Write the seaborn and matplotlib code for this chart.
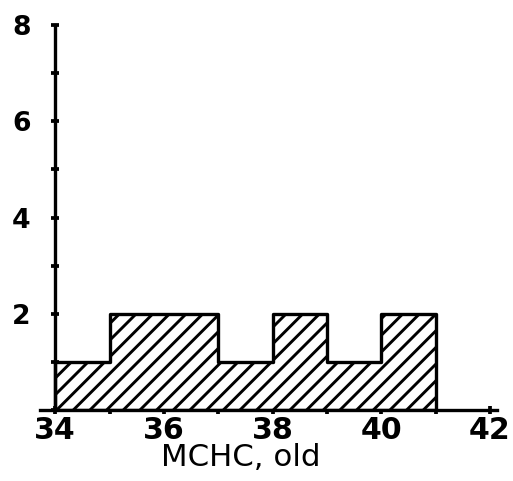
import matplotlib
matplotlib.use("Agg")
import matplotlib.pyplot as plt
import seaborn as sns
import numpy as np
import pandas as pd
from matplotlib.ticker import MultipleLocator, FixedLocator

# Data
bin_edges = [34, 35, 36, 37, 38, 39, 40, 41]
bin_centers = [34.5, 35.5, 36.5, 37.5, 38.5, 39.5, 40.5]
counts = [1, 2, 2, 1, 2, 1, 2]
x_ticks = [34, 36, 38, 40, 42]
y_ticks = [2, 4, 6, 8]
x_label = "MCHC, old"

sns.set_style("ticks")
plt.rcParams['font.family'] = ['DejaVu Sans']
plt.rcParams['hatch.linewidth'] = 1.4
plt.rcParams['hatch.color'] = 'black'
plt.rcParams['text.color'] = 'black'
plt.rcParams['xtick.color'] = 'black'
plt.rcParams['ytick.color'] = 'black'

DPI = 150
fig = plt.figure(figsize=(513 / DPI, 481 / DPI), dpi=DPI)
ax = fig.add_axes([40 / 513, 1 - 410 / 481, (497 - 40) / 513, (410 - 25) / 481])

df = pd.DataFrame({"x": bin_centers, "w": counts})
sns.histplot(data=df, x="x", weights="w", bins=bin_edges, element="step",
             fill=True, facecolor="white", edgecolor="black", linewidth=1.6,
             hatch="///", alpha=1, ax=ax)

ax.set_xlim(33.72, 42.13)
ax.set_ylim(0, 8)
ax.spines['left'].set_position(('data', 34))
ax.spines['right'].set_visible(False)
ax.spines['top'].set_visible(False)
for s in ['left', 'bottom']:
    ax.spines[s].set_linewidth(1.6)
    ax.spines[s].set_color('black')

ax.xaxis.set_major_locator(FixedLocator(x_ticks))
ax.xaxis.set_minor_locator(MultipleLocator(1))
ax.yaxis.set_major_locator(FixedLocator(y_ticks))
ax.yaxis.set_minor_locator(MultipleLocator(1))
ax.tick_params(which='both', direction='inout', length=4, width=1.8, color='black')
ax.tick_params(axis='y', which='major', labelsize=12.8, pad=9.8, labelcolor='black')
ax.tick_params(axis='x', which='major', labelsize=14.4, pad=1, labelcolor='black')
for lab in ax.get_yticklabels():
    lab.set_fontweight('bold')
for lab in ax.get_xticklabels():
    lab.set_fontweight('semibold')

ax.set_ylabel("")
ax.set_xlabel(x_label, fontsize=14.8, color='black')
ax.xaxis.set_label_coords(0.44, -0.085)

fig.savefig("out.png", dpi=DPI)
